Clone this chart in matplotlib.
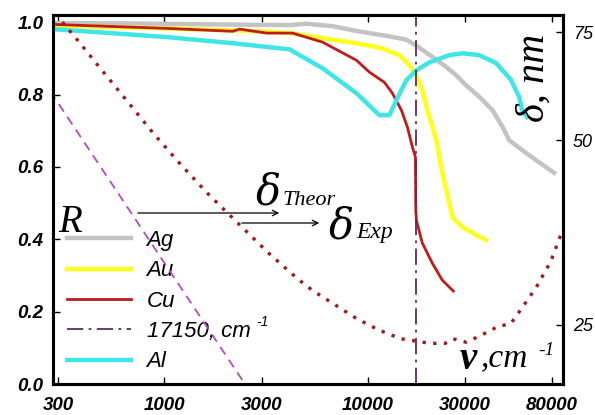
import numpy as np
import matplotlib.pyplot as plt
from matplotlib.lines import Line2D
from matplotlib.ticker import FixedLocator, FixedFormatter, NullLocator

# wavenumber (cm^-1) and reflectance R for each metal
nu_ag = [284, 850, 2620, 4115, 4970, 6710, 8740, 12720, 15370, 17200, 18540,
         20740, 24120, 27020, 30240, 35140, 40830, 45710, 49300, 57300, 66630, 81920]
r_ag = [0.998, 0.996, 0.993, 0.992, 0.996, 0.989, 0.976, 0.961, 0.952, 0.936, 0.923,
        0.904, 0.877, 0.854, 0.826, 0.794, 0.757, 0.711, 0.674, 0.646, 0.619, 0.584]

nu_au = [284, 847, 2620, 4115, 5970, 8760, 11680, 14240, 15940, 17260, 18450,
         19990, 21630, 23140, 25050, 26000, 29000, 33850, 37900]
r_au = [0.990, 0.984, 0.976, 0.970, 0.956, 0.942, 0.928, 0.909, 0.881, 0.854, 0.812,
        0.738, 0.674, 0.583, 0.500, 0.461, 0.434, 0.412, 0.398]

nu_cu = [283, 1027, 2163, 2340, 3174, 4256, 5970, 8760, 10150, 12020, 13160,
         14570, 15600, 16500, 17080, 17150, 17260, 18450, 20670, 23140, 26200]
r_cu = [0.994, 0.983, 0.975, 0.981, 0.970, 0.970, 0.945, 0.895, 0.862, 0.834, 0.804,
        0.757, 0.710, 0.655, 0.627, 0.481, 0.453, 0.390, 0.334, 0.287, 0.257]

nu_al = [283, 482, 1027, 2163, 4115, 4607, 5970, 8760, 11360, 12720, 13770, 15420,
         17260, 19990, 25050, 29000, 35140, 42560, 50420, 55190, 57090, 60390]
r_al = [0.981, 0.972, 0.959, 0.942, 0.925, 0.909, 0.873, 0.804, 0.743, 0.743, 0.785, 0.840,
        0.867, 0.889, 0.909, 0.914, 0.909, 0.887, 0.840, 0.793, 0.757, 0.738]

nu_mark = 17150  # cm^-1

# skin depth delta, nm (right axis)
nu_theor = [250, 3000]
d_theor = [63.0, 18.2]

nu_exp = [296, 318, 368, 493, 653, 877, 1189, 1631, 2314, 3247, 4504, 5353, 6918,
          8730, 11270, 14510, 17200, 20140, 23920, 26180, 30250, 34860, 43210,
          50230, 56890, 67100, 78900, 88300]
d_exp = [80.6, 77.6, 73.3, 65.0, 58.0, 51.4, 45.8, 40.9, 36.5, 32.7, 29.7, 28.4, 26.9,
         25.6, 24.5, 23.7, 23.5, 23.3, 23.3, 23.7, 23.4, 23.9, 24.8,
         25.1, 26.6, 28.8, 31.7, 35.0]

x_ticks = [300, 1000, 3000, 10000, 30000, 80000]
x_labels = ['300', '1000', '3000', '10000', '30000', '80000']
r_ticks = [0.0, 0.2, 0.4, 0.6, 0.8, 1.0]
d_ticks = [25, 50, 75]

W, H = 595, 415
fig = plt.figure(figsize=(W / 100, H / 100), dpi=100)
ax = fig.add_axes([53 / W, 31 / H, 510 / W, 369 / H])
ax2 = ax.twinx()

sans = 'Liberation Sans'
serif = 'Liberation Serif'

ax.plot(nu_ag, r_ag, color='#c3c3c3', lw=3.2, label='Ag', zorder=2)
ax.plot(nu_au, r_au, color='#ffff1a', lw=3.2, label='Au', zorder=3)
ax.plot(nu_cu, r_cu, color='#c11b1b', lw=2.0, label='Cu', zorder=4)
ax.axvline(nu_mark, color='#5e2a60', lw=1.3, ls=(0, (9, 3, 1.5, 3)), label='17150, cm', zorder=6)
ax.plot(nu_al, r_al, color='#3ee6e6', lw=3.2, label='Al', zorder=5)

ax.set_xscale('log')
ax.set_xlim(283.6, 90600)
ax.set_ylim(0, 1.02)
ax.xaxis.set_major_locator(FixedLocator(x_ticks))
ax.xaxis.set_major_formatter(FixedFormatter(x_labels))
ax.xaxis.set_minor_locator(NullLocator())
ax.set_yticks(r_ticks)
ax.set_yticklabels(['%.1f' % v for v in r_ticks])

ax2.plot(nu_theor, d_theor, color='#b548c4', lw=1.3, ls=(0, (5, 3.5)))
ax2.plot(nu_exp, d_exp, color='#a3191d', lw=2.4, ls=(0, (1, 2.2)))
ax2.set_yscale('log')
ax2.set_ylim(20, 80)
ax2.yaxis.set_major_locator(FixedLocator(d_ticks))
ax2.yaxis.set_major_formatter(FixedFormatter([str(v) for v in d_ticks]))
ax2.yaxis.set_minor_locator(NullLocator())

for a in (ax, ax2):
    for s in a.spines.values():
        s.set_linewidth(2.2)
ax.tick_params(axis='both', which='major', direction='in', length=5, width=1.0,
               top=True, labelsize=13.5, pad=7)
ax.tick_params(axis='x', pad=9)
ax2.tick_params(axis='y', direction='in', length=5, width=1.0, labelsize=13, pad=7)
for lab in ax.get_xticklabels() + ax.get_yticklabels():
    lab.set_fontfamily(sans)
    lab.set_fontweight('bold')
    lab.set_fontstyle('italic')
for lab in ax2.get_yticklabels():
    lab.set_fontfamily(sans)
    lab.set_fontstyle('italic')

leg = ax.legend(loc='upper left', bbox_to_anchor=(14 / 510, (384 - 230) / 369),
                frameon=False, handlelength=2.9, handletextpad=0.68, labelspacing=0.42,
                borderpad=0, borderaxespad=0,
                prop={'family': sans, 'style': 'italic', 'size': 16})

def px(x, y):
    return x / W, 1 - y / H

fig.text(*px(256, 326), '-1', family=sans, style='italic', fontsize=10)
fig.text(*px(58, 232), 'R', family=serif, style='italic', fontsize=28)
fig.text(*px(256, 204), 'δ', family='DejaVu Serif', style='italic', fontsize=30)
fig.text(*px(283, 205), 'Theor', family=serif, style='italic', fontsize=16)
fig.text(*px(329, 238), 'δ', family='DejaVu Serif', style='italic', fontsize=30)
fig.text(*px(356, 238), 'Exp', family=serif, style='italic', fontsize=17)
ax.annotate('', xy=(282, H - 213), xytext=(135, H - 213), xycoords='figure pixels',
            arrowprops=dict(arrowstyle='->', lw=0.9, color='black'))
ax.annotate('', xy=(322, H - 223), xytext=(239, H - 223), xycoords='figure pixels',
            arrowprops=dict(arrowstyle='->', lw=0.9, color='black'))
fig.text(*px(460, 369), 'ν', family=serif, style='italic', weight='bold', fontsize=28)
fig.text(*px(481, 366), ',cm', family=serif, style='italic', fontsize=24)
fig.text(*px(538, 355), '-1', family=serif, style='italic', fontsize=14)
fig.text(*px(534, 78), 'δ, nm', family=serif, style='italic', fontsize=29,
         rotation=90, ha='center', va='center')

fig.savefig('out.png', dpi=100)
